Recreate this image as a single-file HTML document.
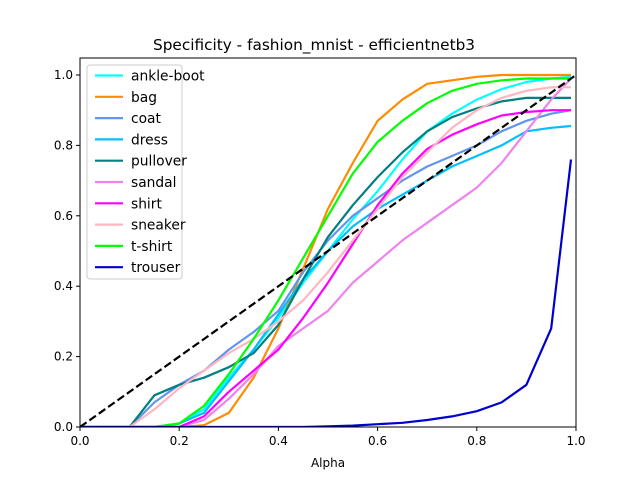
<!DOCTYPE html>
<html><head><meta charset="utf-8"><style>
body{margin:0;background:#fff}
svg{font-family:"DejaVu Sans","Liberation Sans",sans-serif}
</style></head><body>
<svg id="chart" width="640" height="480"></svg>
<script>
const alphas=[0,0.05,0.1,0.15,0.2,0.25,0.3,0.35,0.4,0.45,0.5,0.55,0.6,0.65,0.7,0.75,0.8,0.85,0.9,0.95,0.99];
const seriesNames=["ankle-boot","bag","coat","dress","pullover","sandal","shirt","sneaker","t-shirt","trouser"];
const seriesColors=["#00ffff","#ff8c00","#6495ed","#00bfff","#008080","#ee82ee","#ff00ff","#ffb6c1","#00ff00","#0000cd"];
const ankleBoot=[0,0,0,0,0.01,0.05,0.14,0.22,0.31,0.41,0.5,0.59,0.67,0.76,0.84,0.89,0.93,0.96,0.98,0.99,0.995];
const bag=[0,0,0,0,0,0.005,0.04,0.14,0.28,0.45,0.62,0.75,0.87,0.93,0.975,0.985,0.995,1,1,1,1];
const coat=[0,0,0,0.07,0.12,0.16,0.22,0.27,0.33,0.44,0.53,0.6,0.65,0.7,0.74,0.77,0.8,0.84,0.87,0.89,0.9];
const dress=[0,0,0,0,0.01,0.04,0.13,0.22,0.32,0.42,0.5,0.57,0.62,0.66,0.7,0.74,0.77,0.8,0.84,0.85,0.855];
const pullover=[0,0,0,0.09,0.12,0.14,0.17,0.21,0.29,0.42,0.54,0.63,0.71,0.78,0.84,0.88,0.905,0.925,0.935,0.935,0.935];
const sandal=[0,0,0,0,0,0.02,0.08,0.15,0.23,0.28,0.33,0.41,0.47,0.53,0.58,0.63,0.68,0.75,0.84,0.93,0.99];
const shirt=[0,0,0,0,0,0.03,0.1,0.16,0.22,0.31,0.41,0.52,0.63,0.72,0.79,0.83,0.86,0.885,0.895,0.9,0.9];
const sneaker=[0,0,0,0.05,0.11,0.16,0.21,0.25,0.3,0.36,0.44,0.53,0.62,0.71,0.78,0.85,0.9,0.935,0.955,0.965,0.965];
const tshirt=[0,0,0,0,0.01,0.06,0.15,0.25,0.36,0.48,0.6,0.72,0.81,0.87,0.92,0.955,0.975,0.985,0.99,0.99,0.99];
const trouser=[0,0,0,0,0,0,0,0,0,0,0.002,0.004,0.008,0.012,0.02,0.03,0.045,0.07,0.12,0.28,0.76];
const seriesValues=[ankleBoot,bag,coat,dress,pullover,sandal,shirt,sneaker,tshirt,trouser];
const xTicks=[0,0.2,0.4,0.6,0.8,1.0];
const yTicks=[0,0.2,0.4,0.6,0.8,1.0];

const L=80,R=576,T=58,B=427;
const X=v=>L+v*(R-L);
const Y=v=>B-v*352;
const svg=document.getElementById('chart');
const NS='http://www.w3.org/2000/svg';
function mk(tag,attrs,parent){const e=document.createElementNS(NS,tag);for(const k in attrs)e.setAttribute(k,attrs[k]);(parent||svg).appendChild(e);return e;}

const title=mk('text',{x:314,y:50,'text-anchor':'middle','font-size':15.3});
title.textContent='Specificity - fashion_mnist - efficientnetb3';



const clip=mk('clipPath',{id:'clip'});mk('rect',{x:L,y:T,width:R-L,height:B-T},clip);
const plot=mk('g',{'clip-path':'url(#clip)'});



seriesValues.forEach((vals,i)=>{
  const d=vals.map((v,j)=>(j?'L':'M')+X(alphas[j]).toFixed(1)+' '+Y(v).toFixed(1)).join(' ');
  const p=mk('path',{d:d,fill:'none',stroke:seriesColors[i],'stroke-width':2.2,'stroke-linejoin':'round'},plot);
  
  
});
const diag=mk('line',{x1:X(0),y1:Y(0),x2:X(1),y2:Y(1),stroke:'#000','stroke-width':2.2,'stroke-dasharray':'8,3.5'},plot);



const frame=mk('rect',{x:L,y:T,width:R-L,height:B-T,fill:'none',stroke:'#000','stroke-width':1});



xTicks.forEach(t=>{
  mk('line',{x1:X(t),y1:B,x2:X(t),y2:B+4,stroke:'#000'});
  const tx=mk('text',{x:X(t),y:B+18,'text-anchor':'middle','font-size':12});
  tx.textContent=t.toFixed(1);
  
  
});
yTicks.forEach(t=>{
  mk('line',{x1:L-4,y1:Y(t),x2:L,y2:Y(t),stroke:'#000'});
  const tx=mk('text',{x:L-7,y:Y(t)+4,'text-anchor':'end','font-size':12});
  tx.textContent=t.toFixed(1);
  
  
});
const xl=mk('text',{x:328,y:467,'text-anchor':'middle','font-size':12});
xl.textContent='Alpha';



const leg=mk('g',{});


mk('rect',{x:87,y:65,width:95,height:214,rx:3,fill:'#fff','fill-opacity':0.8,stroke:'#ccc'},leg);
seriesNames.forEach((n,i)=>{
  const y=75.5+i*21.3;
  const g=mk('g',{},leg);
  
  
  mk('line',{x1:95,y1:y,x2:123,y2:y,stroke:seriesColors[i],'stroke-width':2.2},g);
  const t=mk('text',{x:131,y:y+5,'font-size':13.8},g);
  t.textContent=n;
});
</script>
</body></html>
